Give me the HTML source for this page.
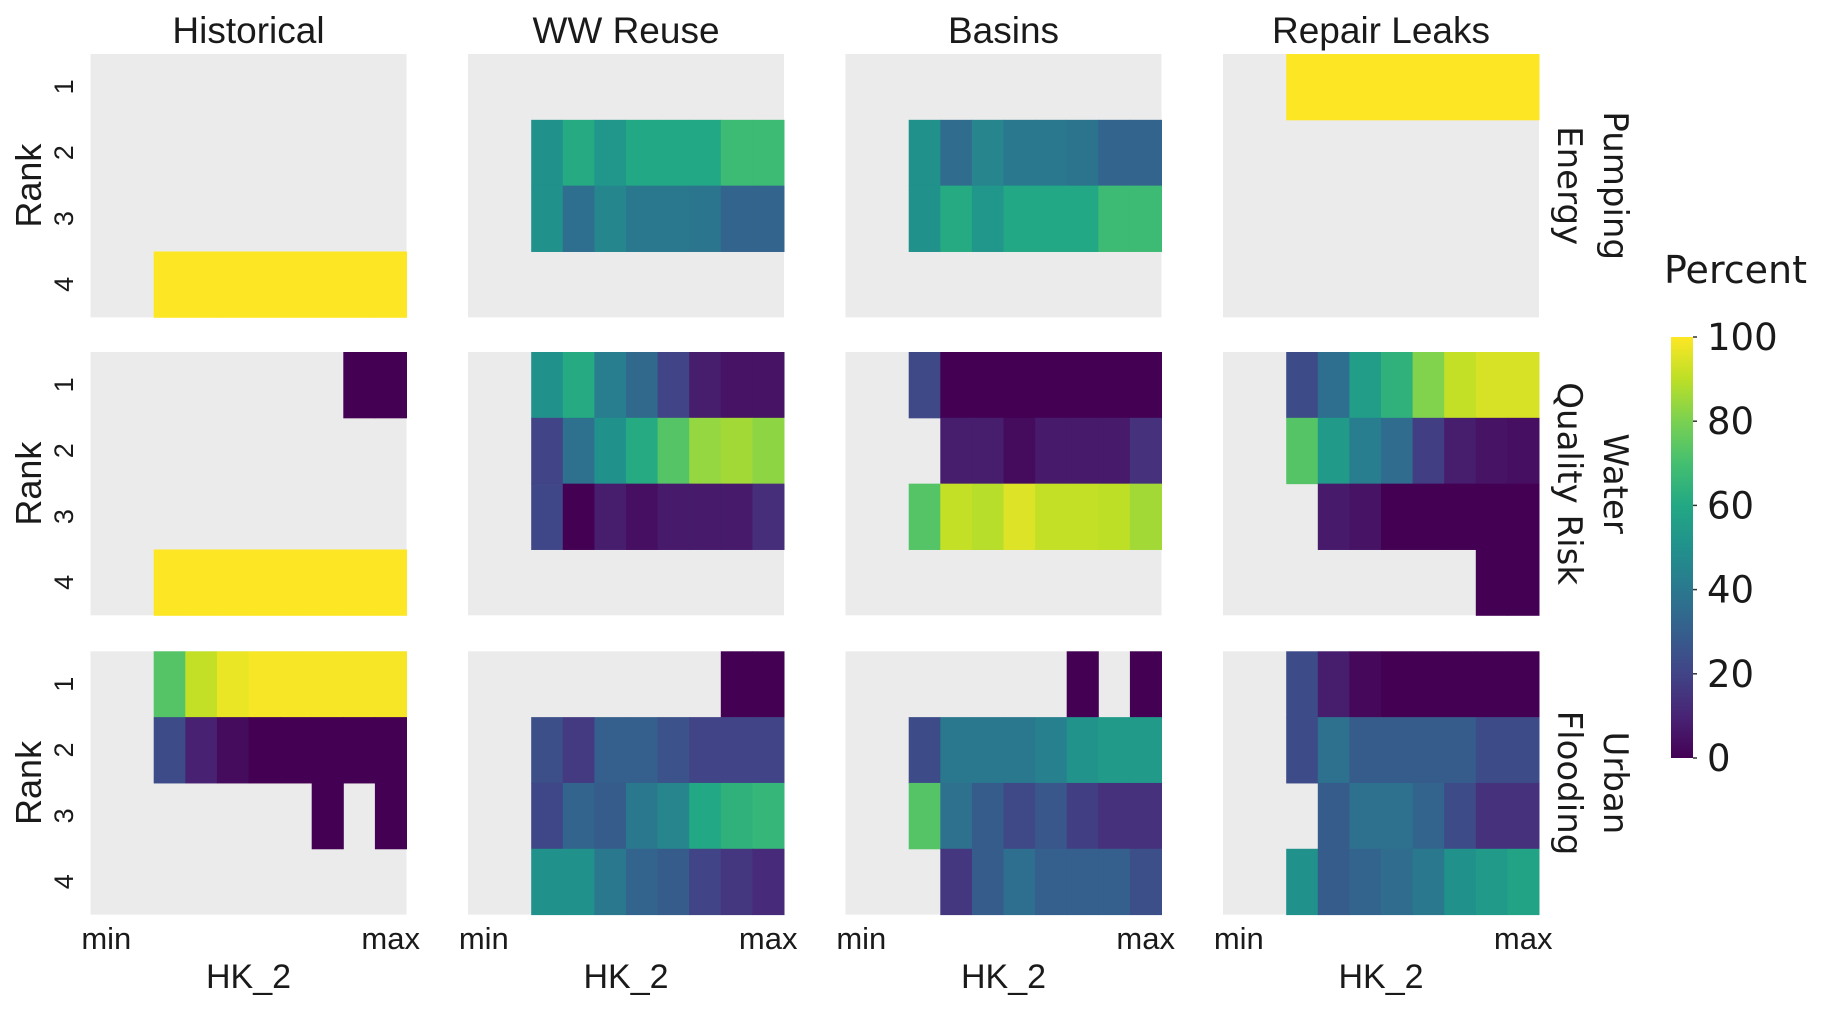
<!DOCTYPE html>
<html><head><meta charset="utf-8"><style>
html,body{margin:0;padding:0;background:#fff;}
svg{display:block;}
text{font-family:"Liberation Sans",Arial,sans-serif;fill:#1a1a1a;}
</style></head><body>
<svg id="chart" width="1829" height="1012" viewBox="0 0 1829 1012" xmlns="http://www.w3.org/2000/svg">
<defs>
<linearGradient id="vir" x1="0" y1="1" x2="0" y2="0">
<stop offset="0" stop-color="#440154"/><stop offset="0.1" stop-color="#482475"/><stop offset="0.2" stop-color="#414487"/><stop offset="0.3" stop-color="#355f8d"/><stop offset="0.4" stop-color="#2a788e"/><stop offset="0.5" stop-color="#21918c"/><stop offset="0.6" stop-color="#22a884"/><stop offset="0.7" stop-color="#44bf70"/><stop offset="0.8" stop-color="#7ad151"/><stop offset="0.9" stop-color="#bddf26"/><stop offset="1" stop-color="#fde725"/>
</linearGradient>
</defs>
<g id="panels"></g>
<g id="labels"></g>
</svg>
<script>
const scenarios = ["Historical","WW Reuse","Basins","Repair Leaks"];
const objectives = [["Pumping","Energy"],["Water","Quality Risk"],["Urban","Flooding"]];
const ranks = ["1","2","3","4"];
const xTickLabels = ["min","max"];
const cbTicks = [0,20,40,60,80,100];
const _ = null;
// Pumping Energy
const pe_hist = [[_,_,_,_,_,_,_,_,_,_],[_,_,_,_,_,_,_,_,_,_],[_,_,_,_,_,_,_,_,_,_],[_,_,100,100,100,100,100,100,100,100]];
const pe_ww = [[_,_,_,_,_,_,_,_,_,_],[_,_,50,61,52,60,60,60,68,68],[_,_,50,36,46,40,40,39,32,32],[_,_,_,_,_,_,_,_,_,_]];
const pe_bas = [[_,_,_,_,_,_,_,_,_,_],[_,_,50,35,45,40,40,38,32,32],[_,_,50,61,52,60,60,60,68,68],[_,_,_,_,_,_,_,_,_,_]];
const pe_rep = [[_,_,100,100,100,100,100,100,100,100],[_,_,_,_,_,_,_,_,_,_],[_,_,_,_,_,_,_,_,_,_],[_,_,_,_,_,_,_,_,_,_]];
// Water Quality Risk
const wq_hist = [[_,_,_,_,_,_,_,_,0,0],[_,_,_,_,_,_,_,_,_,_],[_,_,_,_,_,_,_,_,_,_],[_,_,100,100,100,100,100,100,100,100]];
const wq_ww = [[_,_,50,61,42,34,20,8,5,5],[_,_,20,37,50,61,73,84,86,83],[_,_,21,0,8,4,7,7,7,13],[_,_,_,_,_,_,_,_,_,_]];
const wq_bas = [[_,_,22,0,0,0,0,0,0,0],[_,_,_,8,8,3,7,7,7,14],[_,_,73,91,89,95,91,91,90,86],[_,_,_,_,_,_,_,_,_,_]];
const wq_rep = [[_,_,23,36,55,64,81,91,94,94],[_,_,73,54,42,35,18,8,5,4],[_,_,_,7,5,0,0,0,0,0],[_,_,_,_,_,_,_,_,0,0]];
// Urban Flooding
const uf_hist = [[_,_,73,91,97,99,99,99,99,99],[_,_,23,9,3,0,0,0,0,0],[_,_,_,_,_,_,_,0,_,0],[_,_,_,_,_,_,_,_,_,_]];
const uf_ww = [[_,_,_,_,_,_,_,_,0,0],[_,_,24,17,30,30,25,20,20,20],[_,_,21,32,29,40,45,60,64,66],[_,_,50,50,40,32,29,20,16,12]];
const uf_bas = [[_,_,_,_,_,_,_,0,_,0],[_,_,23,40,40,40,43,51,54,54],[_,_,73,37,29,22,27,18,14,14],[_,_,_,16,29,36,30,30,30,24]];
const uf_rep = [[_,_,23,8,2,0,0,0,0,0],[_,_,23,37,29,29,29,29,23,23],[_,_,_,29,37,37,32,23,14,14],[_,_,50,29,32,35,40,50,54,58]];
const grid = [[pe_hist,pe_ww,pe_bas,pe_rep],[wq_hist,wq_ww,wq_bas,wq_rep],[uf_hist,uf_ww,uf_bas,uf_rep]];

const NS="http://www.w3.org/2000/svg";
const panelLeft=[90.5,468,845.5,1223], panelW=316, rowTop=[54,352,651.3], panelH=263.3;
const nCols=10, nRows=4;
const stops=["#440154","#482475","#414487","#355f8d","#2a788e","#21918c","#22a884","#44bf70","#7ad151","#bddf26","#fde725"];
function hex(h){return [parseInt(h.substr(1,2),16),parseInt(h.substr(3,2),16),parseInt(h.substr(5,2),16)];}
function viridis(v){let t=Math.max(0,Math.min(1,v/100))*10;let i=Math.min(9,Math.floor(t));let f=t-i;
 const a=hex(stops[i]),b=hex(stops[i+1]);return "rgb("+a.map((c,k)=>Math.round(c+(b[k]-c)*f)).join(",")+")";}
function xScale(p,c){return panelLeft[p]+c*panelW/nCols;}
function yScale(r,k){return rowTop[r]+k*panelH/nRows;}
function mk(tag,attrs,parent){const e=document.createElementNS(NS,tag);for(const k in attrs)e.setAttribute(k,attrs[k]);parent.appendChild(e);return e;}
const gP=document.getElementById('panels'), gL=document.getElementById('labels');
for(let r=0;r<3;r++){for(let p=0;p<4;p++){
 const bg=mk('rect',{x:panelLeft[p],y:rowTop[r],width:panelW,height:panelH,fill:'#ebebeb'},gP);
 
 
 const d=grid[r][p];
 for(let k=0;k<nRows;k++)for(let c=0;c<nCols;c++){const v=d[k][c];if(v===null)continue;
  const x0=xScale(p,c),x1=xScale(p,c+1),y0=yScale(r,k),y1=yScale(r,k+1);
  const cell=mk('rect',{x:x0,y:y0,width:x1-x0+0.5,height:y1-y0+0.5,fill:viridis(v)},gP);
  
  }
}}
function txt(s,attrs,size,name,family){const t=mk('text',attrs,gL);t.textContent=s;t.setAttribute('font-size',size);if(family)t.setAttribute('style','font-family:'+family);
 
 return t;}
for(let p=0;p<4;p++){
 txt(scenarios[p],{x:panelLeft[p]+panelW/2,y:43,'text-anchor':'middle'},37,'column-title');
 txt(xTickLabels[0],{x:xScale(p,0.5),y:949,'text-anchor':'middle'},31,'x-tick-min');
 txt(xTickLabels[1],{x:xScale(p,9.5),y:949,'text-anchor':'middle'},31,'x-tick-max');
 txt("HK_2",{x:panelLeft[p]+panelW/2,y:988,'text-anchor':'middle'},34,'x-axis-title');
}
for(let r=0;r<3;r++){
 const cy=rowTop[r]+panelH/2;
 txt("Rank",{x:0,y:0,'text-anchor':'middle',transform:`translate(41,${cy}) rotate(-90)`},36,'y-axis-title');
 for(let k=0;k<nRows;k++){const yc=(yScale(r,k)+yScale(r,k+1))/2;
  txt(ranks[k],{x:0,y:0,'text-anchor':'middle',transform:`translate(73,${yc}) rotate(-90)`},27,'y-tick-label');}
 txt(objectives[r][0],{x:0,y:0,'text-anchor':'middle',transform:`translate(1604,${cy}) rotate(90)`},34,'row-label',"'DejaVu Sans',sans-serif");
 txt(objectives[r][1],{x:0,y:0,'text-anchor':'middle',transform:`translate(1558,${cy}) rotate(90)`},34,'row-label',"'DejaVu Sans',sans-serif");
}
// colorbar
const cbX=1671,cbW=22,cbTop=337,cbBot=758;
function cbY(v){return cbBot-(v/100)*(cbBot-cbTop);}
const cb=mk('rect',{x:cbX,y:cbTop,width:cbW,height:cbBot-cbTop,fill:'url(#vir)'},gL);


txt("Percent",{x:1664,y:283},38,'colorbar-title',"'DejaVu Sans',sans-serif");
for(const v of cbTicks){
 const tk=mk('line',{x1:cbX+cbW,x2:cbX+cbW+4,y1:cbY(v),y2:cbY(v),stroke:'#333','stroke-width':1.5},gL);
 
 
 txt(String(v),{x:1707,y:cbY(v)+13},37,'colorbar-tick-label',"'DejaVu Sans',sans-serif");
}
</script>
</body></html>
